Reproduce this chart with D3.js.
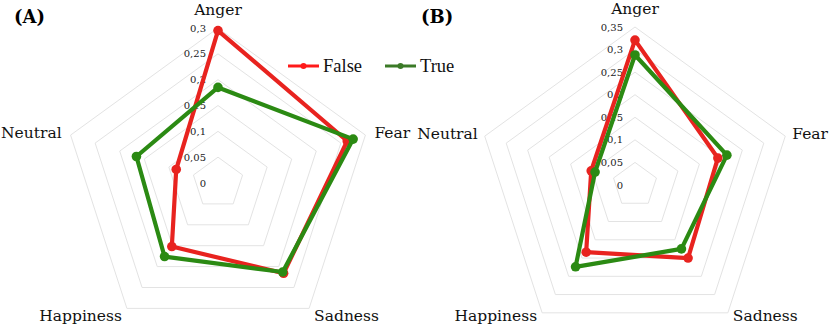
<!DOCTYPE html>
<html>
<head>
<meta charset="utf-8">
<script src="https://cdn.jsdelivr.net/npm/d3@7"></script>
<style>
  body { margin: 0; background: #fff; }
  svg { display: block; }
</style>
</head>
<body>
<svg id="chart" width="830" height="327"></svg>
<script>
// categories and values
var emotions = ["Anger", "Fear", "Sadness", "Happiness", "Neutral"];

var falseA = [0.295, 0.263, 0.216, 0.152, 0.085];
var trueA  = [0.185, 0.275, 0.213, 0.176, 0.166];
var ticksA = [0, 0.05, 0.1, 0.15, 0.2, 0.25, 0.3];

var falseB = [0.321, 0.193, 0.200, 0.184, 0.102];
var trueB  = [0.288, 0.214, 0.175, 0.224, 0.093];
var ticksB = [0, 0.05, 0.1, 0.15, 0.2, 0.25, 0.3, 0.35];

var seriesNames = ["False", "True"];
var lineColors = ["#e8231f", "#2b8a13"];
var legendColors = ["#ff1a1a", "#3b7a27"];

var svg = d3.select("#chart");

var fmt = function(v) { return String(v).replace(".", ","); };

function radar(opts) {
  var g = svg.append("g").attr("transform", "translate(" + opts.cx + "," + opts.cy + ")");
  var maxV = opts.ticks[opts.ticks.length - 1];

  var r = d3.scaleLinear().domain([0, maxV]).range([0, opts.radius]);
  var angle = d3.scalePoint().domain(emotions.concat(["_end"])).range([0, 2 * Math.PI]);

  var radial = d3.lineRadial()
      .angle(function(d, i) { return angle(emotions[i]); })
      .radius(function(d) { return r(d); })
      .curve(d3.curveLinearClosed);

  // grid pentagons (one for each tick above 0)
  g.selectAll("path.grid")
    .data(opts.ticks.slice(1))
    .enter().append("path")
      .attr("class", "grid")
      .attr("d", function(t) { return radial(emotions.map(function() { return t; })); })
      .attr("fill", "none")
      .attr("stroke", "#e3e3e3")
      .attr("stroke-width", 1);

  // tick labels on the Anger axis
  g.selectAll("text.tick")
    .data(opts.ticks)
    .enter().append("text")
      .attr("class", "tick")
      .attr("x", -12)
      .attr("y", function(t) { return -r(t); })
      .attr("dy", "0.35em")
      .attr("text-anchor", "end")
      .style("font-family", "'DejaVu Serif', serif")
      .style("font-size", "10px")
      .style("fill", "#222")
      .text(fmt);

  // series
  [opts.f, opts.t].forEach(function(vals, s) {
    g.append("path")
      .attr("d", radial(vals))
      .attr("fill", "none")
      .attr("stroke", lineColors[s])
      .attr("stroke-width", 4.2)
      .attr("stroke-linejoin", "round");
    g.selectAll("circle.s" + s)
      .data(vals)
      .enter().append("circle")
        .attr("class", "s" + s)
        .attr("cx", function(d, i) { return r(d) * Math.sin(angle(emotions[i])); })
        .attr("cy", function(d, i) { return -r(d) * Math.cos(angle(emotions[i])); })
        .attr("r", 4.8)
        .attr("fill", lineColors[s]);
  });

  // category labels
  var bottomY = 321 - opts.cy;
  g.selectAll("text.cat")
    .data(emotions)
    .enter().append("text")
      .attr("class", "cat")
      .each(function(e) {
        var a = angle(e);
        var px = opts.radius * Math.sin(a), py = -opts.radius * Math.cos(a);
        var sel = d3.select(this);
        if (e === "Anger") {
          sel.attr("x", 0).attr("y", py - 13).attr("text-anchor", "middle");
        } else if (e === "Fear") {
          sel.attr("x", px + opts.sideGap).attr("y", py + 3).attr("text-anchor", "start");
        } else if (e === "Neutral") {
          sel.attr("x", px - opts.sideGap).attr("y", py + 3).attr("text-anchor", "end");
        } else if (e === "Sadness") {
          sel.attr("x", px + 5).attr("y", bottomY).attr("text-anchor", "start");
        } else {
          sel.attr("x", px - 5).attr("y", bottomY).attr("text-anchor", "end");
        }
      })
      .style("font-family", "'DejaVu Serif', serif")
      .style("font-size", "15.5px")
      .style("fill", "#111")
      .text(function(e) { return e; });

  svg.append("text")
    .attr("x", opts.labelX)
    .attr("y", 23)
    .style("font-family", "'DejaVu Serif', serif")
    .style("font-weight", "bold")
    .style("font-size", "18px")
    .style("fill", "#000")
    .text(opts.label);
}

radar({ cx: 218, cy: 183, radius: 155, ticks: ticksA, f: falseA, t: trueA, label: "(A)", labelX: 14, sideGap: 9 });
radar({ cx: 635, cy: 185, radius: 158, ticks: ticksB, f: falseB, t: trueB, label: "(B)", labelX: 421, sideGap: 7 });

// legend
var legend = svg.append("g").attr("transform", "translate(288,66)");
var item = legend.selectAll("g")
  .data(seriesNames)
  .enter().append("g")
    .attr("transform", function(d, i) { return "translate(" + (i * 97) + ",0)"; });
item.append("line")
  .attr("x1", 0).attr("x2", 31).attr("y1", 0).attr("y2", 0)
  .attr("stroke", function(d, i) { return legendColors[i]; })
  .attr("stroke-width", 3);
item.append("circle")
  .attr("cx", 15.5).attr("cy", 0).attr("r", 3)
  .attr("fill", function(d, i) { return legendColors[i]; });
item.append("text")
  .attr("x", 35).attr("y", 6)
  .style("font-family", "'Liberation Serif', serif")
  .style("font-size", "18.5px")
  .style("fill", "#111")
  .text(function(d) { return d; });
</script>
</body>
</html>
